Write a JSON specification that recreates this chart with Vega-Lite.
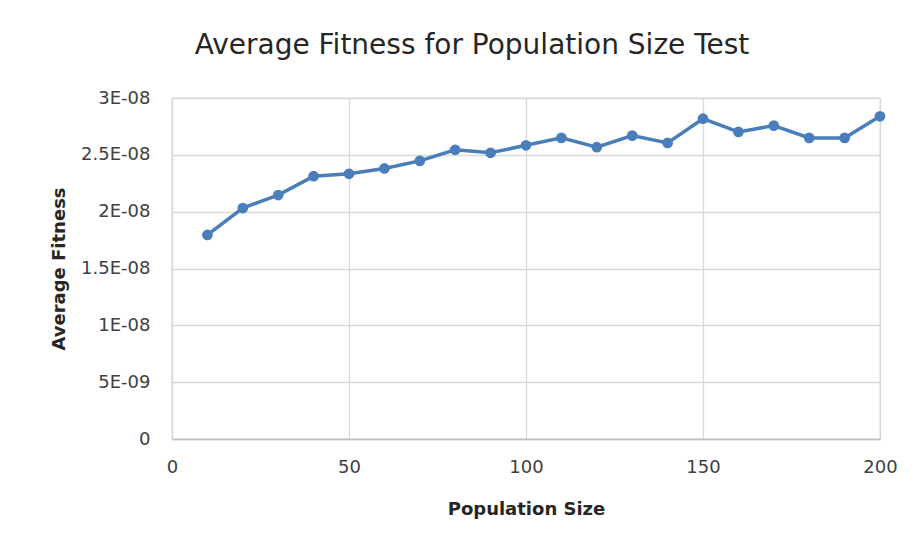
{
  "$schema": "https://vega.github.io/schema/vega-lite/v6.json",
  "autosize": {"type": "none"},
  "width": 708,
  "height": 341,
  "padding": {"left": 172, "top": 98, "right": 34, "bottom": 113},
  "background": "white",
  "title": {
    "text": "Average Fitness for Population Size Test",
    "font": "DejaVu Sans",
    "fontSize": 28,
    "fontWeight": "normal",
    "color": "#262626",
    "anchor": "middle",
    "dx": -54,
    "offset": 29
  },
  "data": {
    "values": [
      {"size": 10, "fitness": 1.795e-8},
      {"size": 20, "fitness": 2.032e-8},
      {"size": 30, "fitness": 2.146e-8},
      {"size": 40, "fitness": 2.312e-8},
      {"size": 50, "fitness": 2.333e-8},
      {"size": 60, "fitness": 2.380e-8},
      {"size": 70, "fitness": 2.447e-8},
      {"size": 80, "fitness": 2.544e-8},
      {"size": 90, "fitness": 2.518e-8},
      {"size": 100, "fitness": 2.584e-8},
      {"size": 110, "fitness": 2.649e-8},
      {"size": 120, "fitness": 2.567e-8},
      {"size": 130, "fitness": 2.669e-8},
      {"size": 140, "fitness": 2.605e-8},
      {"size": 150, "fitness": 2.818e-8},
      {"size": 160, "fitness": 2.702e-8},
      {"size": 170, "fitness": 2.757e-8},
      {"size": 180, "fitness": 2.649e-8},
      {"size": 190, "fitness": 2.649e-8},
      {"size": 200, "fitness": 2.839e-8}
    ]
  },
  "mark": {
    "type": "line",
    "color": "#4a7ebb",
    "strokeWidth": 3.5,
    "point": {"filled": true, "size": 115, "color": "#4a7ebb", "opacity": 1}
  },
  "encoding": {
    "x": {
      "field": "size",
      "type": "quantitative",
      "title": "Population Size",
      "scale": {"domain": [0, 200], "nice": false, "zero": true},
      "axis": {
        "values": [0, 50, 100, 150, 200],
        "labelFlush": false,
        "grid": true,
        "gridColor": "#d9d9d9",
        "gridWidth": 1.3,
        "domain": true,
        "domainColor": "#bfbfbf",
        "domainWidth": 1.3,
        "ticks": false,
        "labelPadding": 19,
        "labelFont": "DejaVu Sans",
        "labelFontSize": 18,
        "labelColor": "#404040",
        "titleFont": "DejaVu Sans",
        "titleFontSize": 18,
        "titleFontWeight": "bold",
        "titleColor": "#262626",
        "titlePadding": 24
      }
    },
    "y": {
      "field": "fitness",
      "type": "quantitative",
      "title": "Average Fitness",
      "scale": {"domain": [0, 3e-8], "nice": false},
      "axis": {
        "values": [0, 5e-9, 1e-8, 1.5e-8, 2e-8, 2.5e-8, 3e-8],
        "labelFlush": false,
        "labelExpr": "datum.value == 0 ? '0' : replace(replace(format(datum.value, '.2~e'), 'e-', 'E-0'), 'E-01', 'E-1')",
        "grid": true,
        "gridColor": "#d9d9d9",
        "gridWidth": 1.3,
        "domain": true,
        "domainColor": "#d9d9d9",
        "domainWidth": 1.3,
        "ticks": false,
        "labelPadding": 22,
        "labelFont": "DejaVu Sans",
        "labelFontSize": 18,
        "labelColor": "#404040",
        "titleFont": "DejaVu Sans",
        "titleFontSize": 18,
        "titleFontWeight": "bold",
        "titleColor": "#262626",
        "titlePadding": 12
      }
    }
  },
  "config": {
    "view": {"stroke": "#d9d9d9", "strokeWidth": 1.3}
  }
}
